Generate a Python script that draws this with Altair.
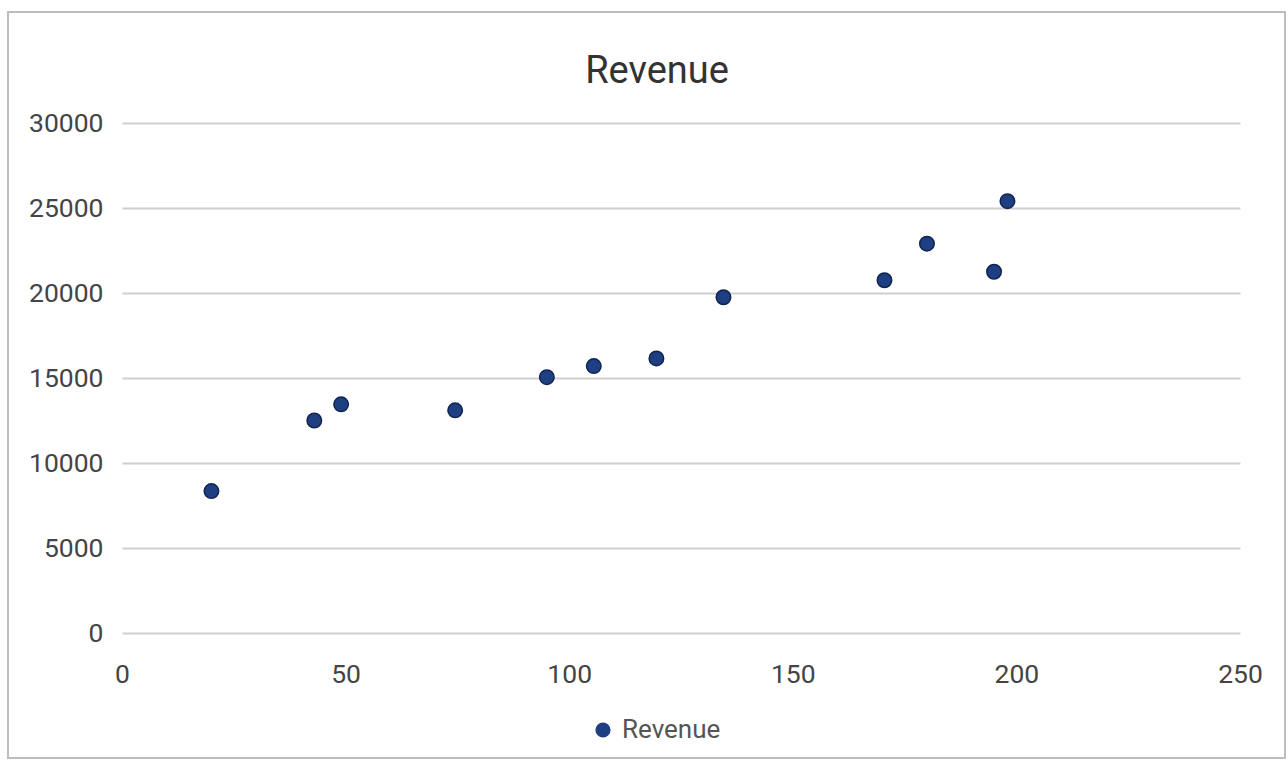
import altair as alt
import pandas as pd

# Units (x) and revenue (y) for each observation
units = [20, 43, 49, 74.5, 95, 105.5, 119.5, 134.5, 170.5, 180, 195, 198]
revenue = [8350, 12500, 13450, 13100, 15050, 15700, 16150, 19750, 20750, 22900, 21250, 25400]
series = ["Revenue"] * len(units)

x_ticks = [0, 50, 100, 150, 200, 250]
y_ticks = [0, 5000, 10000, 15000, 20000, 25000, 30000]

df = pd.DataFrame({"units": units, "revenue": revenue, "series": series})

W, H = 1118, 510
FONT = "Roboto"

points = alt.Chart(df).mark_circle(size=210, opacity=1, stroke="#0f2550", strokeWidth=1.5).encode(
    x=alt.X("units:Q", scale=alt.Scale(domain=[0, 250], nice=False),
            axis=alt.Axis(values=x_ticks, title=None, grid=False, domain=False, ticks=False,
                          labelPadding=28, labelFontSize=26.5, labelColor="#444444",
                          labelFont=FONT, labelFlush=False, format="d")),
    y=alt.Y("revenue:Q", scale=alt.Scale(domain=[0, 30000], nice=False),
            axis=alt.Axis(values=y_ticks, title=None, grid=True, gridColor="#cfcfcf",
                          gridWidth=2, domain=False, ticks=False, labelPadding=19,
                          labelFontSize=26.5, labelColor="#444444", labelFont=FONT,
                          format="d")),
    color=alt.Color("series:N", scale=alt.Scale(range=["#1e3f82"]),
                    legend=alt.Legend(title=None, orient="none", legendX=468, legendY=594,
                                      symbolType="circle", symbolSize=230,
                                      symbolStrokeWidth=0, labelFontSize=26,
                                      labelColor="#555555", labelFont=FONT, labelOffset=6)),
)

title = alt.Chart(pd.DataFrame({"t": ["Revenue"]})).mark_text(
    fontSize=38, font=FONT, color="#333333", align="center", baseline="alphabetic"
).encode(text="t:N", x=alt.value(535), y=alt.value(-40))

frame = alt.Chart(pd.DataFrame({"f": [0]})).mark_rect(
    fill=None, stroke="#bdbdbd", strokeWidth=2
).encode(x=alt.value(-114), x2=alt.value(1163), y=alt.value(-111), y2=alt.value(635))

chart = alt.layer(frame, points, title).properties(
    width=W, height=H,
    background="white",
    autosize=alt.AutoSizeParams(type="none"),
    padding={"left": 122, "top": 123, "right": 48, "bottom": 136},
).configure_view(stroke=None, strokeWidth=0)

chart.save("out.html", embed_options={"renderer": "svg", "actions": False})
